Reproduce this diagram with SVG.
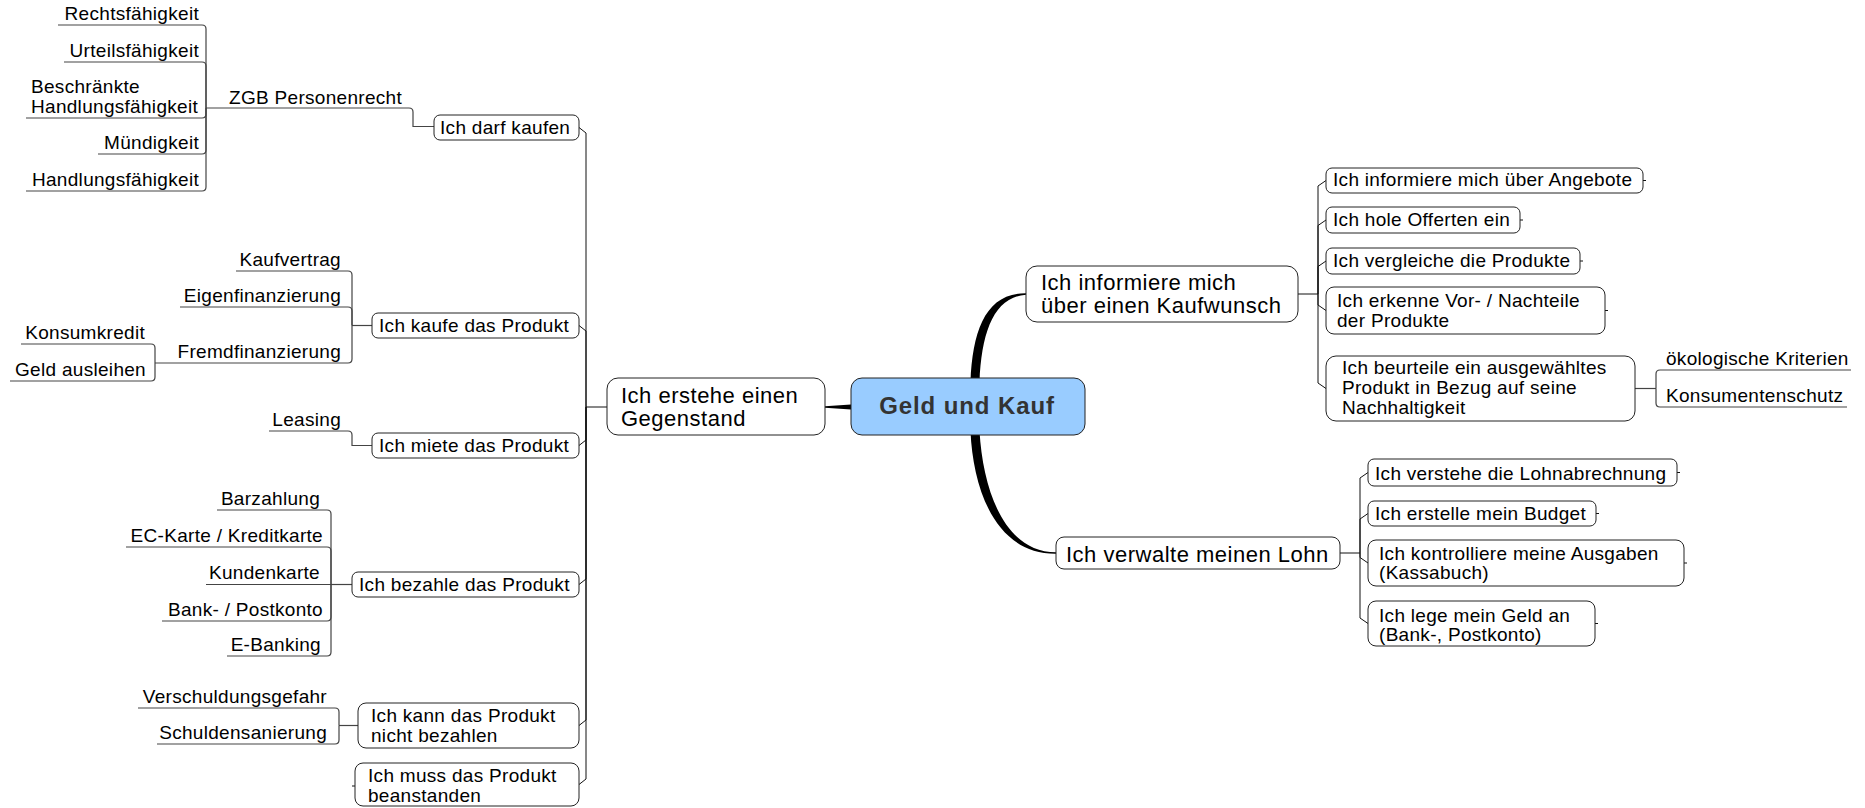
<svg xmlns="http://www.w3.org/2000/svg" width="1865" height="808" viewBox="0 0 1865 808">
<style>
.box{fill:#fff;stroke:#222;stroke-width:1}
.root{fill:#99ccff;stroke:#222;stroke-width:1}
.t{font-family:"Liberation Sans",Arial,sans-serif;font-size:19px;letter-spacing:0.3px;fill:#000}
.t1{font-family:"Liberation Sans",Arial,sans-serif;font-size:22px;letter-spacing:0.5px;fill:#000}
.tr{font-family:"Liberation Sans",Arial,sans-serif;font-size:24px;font-weight:bold;letter-spacing:0.9px;fill:#333}
.e{text-anchor:end}
.c{fill:none;stroke:#111;stroke-width:1}
.u{fill:none;stroke:#444;stroke-width:1.2}
.thick{fill:#000;stroke:none}
</style>
<rect width="1865" height="808" fill="#fff"/>
<g id="connectors">
<!-- root to level 1 -->
<path class="thick" d="M851 404.5 L825 406.3 L825 407.7 L851 409.5 Z"/>
<path class="thick" d="M970.5 382 C972.5 330 986 293 1026 293.3 L1026 294.7 C994 297 981.5 332 979.5 382 Z"/>
<path class="thick" d="M970.5 431 C973 490 996 554.2 1056 553.7 L1056 552.3 C1004 551.8 983 490 979.5 431 Z"/>
<!-- left trunk -->
<path class="c" d="M586 407 L607 407"/>
<path class="c" d="M579 127.5 L586 133 L586 407"/>
<path class="c" d="M579 325.5 L586 331 L586 407"/>
<path class="c" d="M579 445.5 L586 440 L586 407"/>
<path class="c" d="M579 584.5 L586 579 L586 407"/>
<path class="c" d="M579 725.5 L586 720 L586 407"/>
<path class="c" d="M579 784.5 L586 779 L586 407"/>
<!-- Ich darf kaufen -->
<path class="u" d="M206 108 L409 108 Q413 108 413 112 L413 126.5 L434 126.5"/>
<path class="u" d="M58 25 L202 25 Q206 25 206 29 L206 108"/>
<path class="u" d="M64 62 L202 62 Q206 62 206 66 L206 108"/>
<path class="u" d="M26 118 L202 118 Q206 118 206 114 L206 108"/>
<path class="u" d="M98 154 L202 154 Q206 154 206 150 L206 108"/>
<path class="u" d="M26 191 L202 191 Q206 191 206 187 L206 108"/>
<!-- Ich kaufe -->
<path class="u" d="M352 325.5 L372 325.5"/>
<path class="u" d="M236 271 L348 271 Q352 271 352 275 L352 325.5"/>
<path class="u" d="M180 307 L348 307 Q352 307 352 311 L352 325.5"/>
<path class="u" d="M155 363 L348 363 Q352 363 352 359 L352 325.5"/>
<path class="u" d="M21 344 L151 344 Q155 344 155 348 L155 363"/>
<path class="u" d="M10 381 L151 381 Q155 381 155 377 L155 363"/>
<!-- Ich miete -->
<path class="u" d="M269 431 L348 431 Q352 431 352 435 L352 445.5 L372 445.5"/>
<!-- Ich bezahle -->
<path class="u" d="M331 584.5 L352 584.5"/>
<path class="u" d="M217 510 L327 510 Q331 510 331 514 L331 584.5"/>
<path class="u" d="M126 547 L327 547 Q331 547 331 551 L331 584.5"/>
<path class="u" d="M206 584.5 L331 584.5"/>
<path class="u" d="M162 621 L327 621 Q331 621 331 617 L331 584.5"/>
<path class="u" d="M227 656 L327 656 Q331 656 331 652 L331 584.5"/>
<!-- Ich kann nicht bezahlen -->
<path class="u" d="M339 725.5 L358 725.5"/>
<path class="u" d="M138 708 L335 708 Q339 708 339 712 L339 725.5"/>
<path class="u" d="M157 744 L335 744 Q339 744 339 740 L339 725.5"/>
<!-- right: informiere -->
<path class="c" d="M1298 294 L1318 294"/>
<path class="c" d="M1326 180.5 L1318 186 L1318 294"/>
<path class="c" d="M1326 220 L1318 225.5 L1318 294"/>
<path class="c" d="M1326 261 L1318 266.5 L1318 294"/>
<path class="c" d="M1326 310.5 L1318 305 L1318 294"/>
<path class="c" d="M1326 388.5 L1318 383 L1318 294"/>
<path class="u" d="M1635 388.5 L1656 388.5"/>
<path class="u" d="M1656 388.5 L1656 374 Q1656 370 1660 370 L1851 370"/>
<path class="u" d="M1656 388.5 L1656 403 Q1656 407 1660 407 L1847 407"/>
<!-- right: Lohn -->
<path class="c" d="M1340 553 L1360 553"/>
<path class="c" d="M1368 472.5 L1360 478 L1360 553"/>
<path class="c" d="M1368 513.5 L1360 519 L1360 553"/>
<path class="c" d="M1368 563 L1360 557.5 L1360 553"/>
<path class="c" d="M1368 623.5 L1360 618 L1360 553"/>
<!-- leaf stubs -->
<path class="c" d="M1643 180.5 L1646 180.5 M1520 220 L1523 220 M1580 261 L1583 261 M1605 310.5 L1608 310.5 M1677 472.5 L1680 472.5 M1596 513.5 L1599 513.5 M1684 563 L1687 563 M1595 623.5 L1598 623.5 M355 786 L352 786"/>
</g>

<g id="root"><rect class="root" x="851" y="378" width="234" height="57" rx="11"/><text class="tr" x="967" y="414" text-anchor="middle">Geld und Kauf</text></g>

<g id="n-ersteht"><rect class="box" x="607" y="378" width="218" height="57" rx="11"/><text class="t1" x="621" y="403">Ich erstehe einen</text><text class="t1" x="621" y="426">Gegenstand</text></g>
<g id="n-informiere"><rect class="box" x="1026" y="266" width="272" height="56" rx="11"/><text class="t1" x="1041" y="290">Ich informiere mich</text><text class="t1" x="1041" y="313">über einen Kaufwunsch</text></g>
<g id="n-verwalte"><rect class="box" x="1056" y="537" width="284" height="32" rx="8"/><text class="t1" x="1066" y="562">Ich verwalte meinen Lohn</text></g>

<g id="n-darf"><rect class="box" x="434" y="115" width="145" height="25" rx="6"/><text class="t" x="440" y="134">Ich darf kaufen</text></g>
<g id="n-zgb"><text class="t" x="229" y="104">ZGB Personenrecht</text></g>
<g id="n-rechts"><text class="t e" x="199" y="20">Rechtsfähigkeit</text></g>
<g id="n-urteil"><text class="t e" x="199" y="57">Urteilsfähigkeit</text></g>
<g id="n-beschr"><text class="t" x="31" y="93">Beschränkte</text><text class="t" x="31" y="113">Handlungsfähigkeit</text></g>
<g id="n-muendig"><text class="t e" x="199" y="149">Mündigkeit</text></g>
<g id="n-handl"><text class="t e" x="199" y="186">Handlungsfähigkeit</text></g>

<g id="n-kaufe"><rect class="box" x="372" y="313" width="207" height="25" rx="6"/><text class="t" x="379" y="332">Ich kaufe das Produkt</text></g>
<g id="n-kaufvertrag"><text class="t e" x="341" y="266">Kaufvertrag</text></g>
<g id="n-eigen"><text class="t e" x="341" y="302">Eigenfinanzierung</text></g>
<g id="n-fremd"><text class="t e" x="341" y="358">Fremdfinanzierung</text></g>
<g id="n-konsum"><text class="t e" x="145" y="339">Konsumkredit</text></g>
<g id="n-geld"><text class="t e" x="146" y="376">Geld ausleihen</text></g>

<g id="n-miete"><rect class="box" x="372" y="433" width="207" height="25" rx="6"/><text class="t" x="379" y="452">Ich miete das Produkt</text></g>
<g id="n-leasing"><text class="t e" x="341" y="426">Leasing</text></g>

<g id="n-bezahle"><rect class="box" x="352" y="572" width="227" height="25" rx="6"/><text class="t" x="359" y="591">Ich bezahle das Produkt</text></g>
<g id="n-bar"><text class="t e" x="320" y="505">Barzahlung</text></g>
<g id="n-ec"><text class="t e" x="323" y="542">EC-Karte / Kreditkarte</text></g>
<g id="n-kunden"><text class="t e" x="320" y="579">Kundenkarte</text></g>
<g id="n-bank"><text class="t e" x="323" y="616">Bank- / Postkonto</text></g>
<g id="n-ebank"><text class="t e" x="321" y="651">E-Banking</text></g>

<g id="n-kann"><rect class="box" x="358" y="703" width="221" height="45" rx="8"/><text class="t" x="371" y="722">Ich kann das Produkt</text><text class="t" x="371" y="742">nicht bezahlen</text></g>
<g id="n-versch"><text class="t e" x="327" y="703">Verschuldungsgefahr</text></g>
<g id="n-schuld"><text class="t e" x="327" y="739">Schuldensanierung</text></g>

<g id="n-muss"><rect class="box" x="355" y="763" width="224" height="43" rx="8"/><text class="t" x="368" y="782">Ich muss das Produkt</text><text class="t" x="368" y="802">beanstanden</text></g>

<g id="n-angebote"><rect class="box" x="1326" y="168" width="317" height="25" rx="6"/><text class="t" x="1333" y="186">Ich informiere mich über Angebote</text></g>
<g id="n-offerten"><rect class="box" x="1326" y="207" width="194" height="26" rx="6"/><text class="t" x="1333" y="226">Ich hole Offerten ein</text></g>
<g id="n-vergleiche"><rect class="box" x="1326" y="248" width="254" height="26" rx="6"/><text class="t" x="1333" y="267">Ich vergleiche die Produkte</text></g>
<g id="n-erkenne"><rect class="box" x="1326" y="287" width="279" height="47" rx="8"/><text class="t" x="1337" y="307">Ich erkenne Vor- / Nachteile</text><text class="t" x="1337" y="327">der Produkte</text></g>
<g id="n-beurteile"><rect class="box" x="1326" y="356" width="309" height="65" rx="10"/><text class="t" x="1342" y="374">Ich beurteile ein ausgewähltes</text><text class="t" x="1342" y="394">Produkt in Bezug auf seine</text><text class="t" x="1342" y="414">Nachhaltigkeit</text></g>
<g id="n-oeko"><text class="t" x="1666" y="365">ökologische Kriterien</text></g>
<g id="n-konsumentenschutz"><text class="t" x="1666" y="402">Konsumentenschutz</text></g>

<g id="n-lohnabrechnung"><rect class="box" x="1368" y="459" width="309" height="27" rx="6"/><text class="t" x="1375" y="480">Ich verstehe die Lohnabrechnung</text></g>
<g id="n-budget"><rect class="box" x="1368" y="501" width="228" height="25" rx="6"/><text class="t" x="1375" y="520">Ich erstelle mein Budget</text></g>
<g id="n-kontrolliere"><rect class="box" x="1368" y="540" width="316" height="46" rx="8"/><text class="t" x="1379" y="560">Ich kontrolliere meine Ausgaben</text><text class="t" x="1379" y="579">(Kassabuch)</text></g>
<g id="n-lege"><rect class="box" x="1368" y="601" width="227" height="45" rx="8"/><text class="t" x="1379" y="622">Ich lege mein Geld an</text><text class="t" x="1379" y="641">(Bank-, Postkonto)</text></g>
</svg>
